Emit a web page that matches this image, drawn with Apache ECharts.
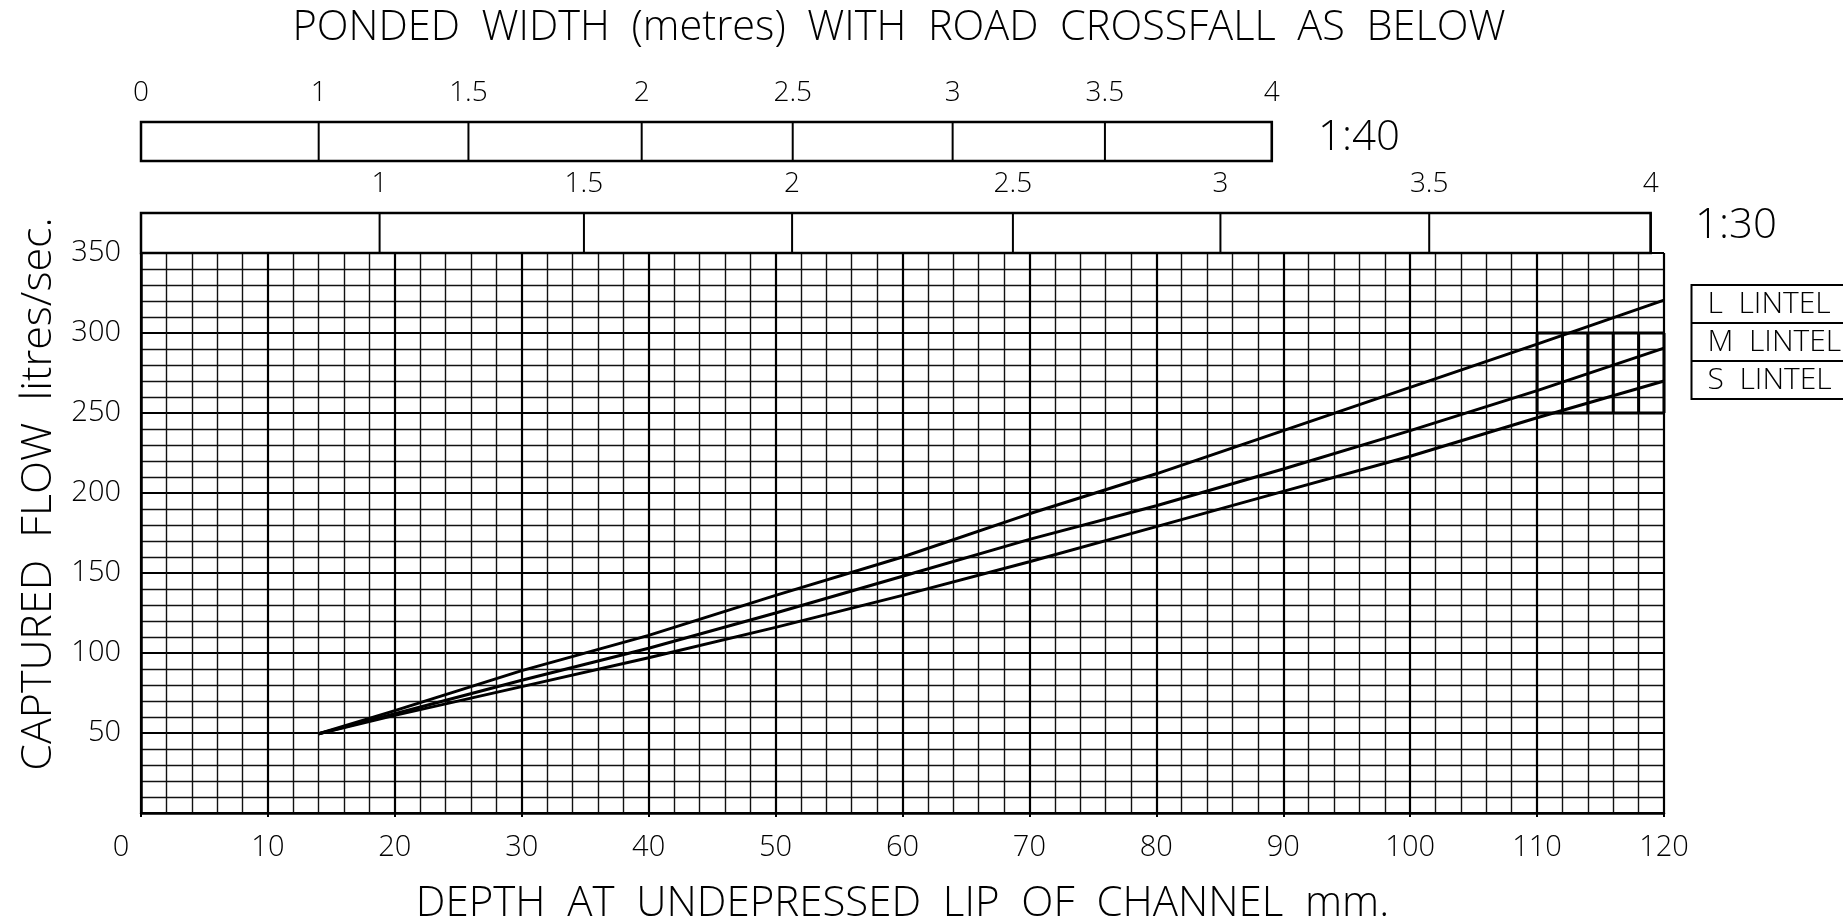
<!DOCTYPE html>
<html>
<head>
<meta charset="utf-8">
<title>Captured flow v depth</title>
<script src="https://cdn.jsdelivr.net/npm/echarts@6/dist/echarts.min.js"></script>
<style>
  html, body { margin: 0; padding: 0; background: #fff; }
  #main { width: 1843px; height: 920px; }
</style>
</head>
<body>
<div id="main"></div>
<script>
// depth at undepressed lip (mm) and captured flow (l/s)
const depth = [14, 20, 30, 40, 50, 60, 70, 80, 90, 100, 110, 120];
const flowL = [49.5, 64, 89, 111, 136, 160, 187, 212, 239, 266, 293, 320.5];
const flowM = [49.5, 62, 83, 103, 125, 148, 171, 192, 215, 239, 264, 290.5];
const flowS = [49.5, 61, 79, 97, 116, 136, 157, 179, 201, 223, 247, 270];
const lintelNames = ['L  LINTEL', 'M  LINTEL', 'S  LINTEL'];

// ponded width scales: width label and the depth (mm) it lines up with
const width40Labels = ['0', '1', '1.5', '2', '2.5', '3', '3.5', '4'];
const width40Depth = [0, 14.0, 25.8, 39.45, 51.35, 63.95, 75.95, 89.1];
const width30Labels = ['1', '1.5', '2', '2.5', '3', '3.5', '4'];
const width30Depth = [18.8, 34.9, 51.3, 68.7, 85.05, 101.5, 118.95];

// heavy ruled block at the right end (depth mm / flow l/s)
const zoneDepth = [110, 112, 114, 116, 118, 120];
const zoneFlow = [250, 300];

const FONT = '"Open Sans", "Liberation Sans", sans-serif';
const GRID_LEFT = 141, GRID_WIDTH = 1523;

function zip(xs, ys) {
  return xs.map((x, i) => [x, ys[i]]);
}

// one box scale: outline + a divider and a label for every entry
function scaleRenderer(labels, positions) {
  return function (params, api) {
    const x = api.value(0);
    const top = api.coord([x, 1]);
    const bottom = api.coord([x, 0]);
    const children = [
      {
        type: 'line',
        shape: { x1: top[0], y1: top[1], x2: bottom[0], y2: bottom[1] },
        style: { stroke: '#000', lineWidth: 2 }
      },
      {
        type: 'text',
        style: {
          text: labels[params.dataIndex],
          x: top[0], y: top[1] - 29,
          align: 'center', verticalAlign: 'middle',
          fontSize: 28, fontWeight: 300, fontFamily: FONT, fill: '#000'
        }
      }
    ];
    if (params.dataIndex === 0) {
      const a = api.coord([0, 1]);
      const b = api.coord([positions[positions.length - 1], 0]);
      children.push({
        type: 'rect',
        shape: { x: a[0], y: a[1], width: b[0] - a[0], height: b[1] - a[1] },
        style: { fill: 'none', stroke: '#000', lineWidth: 2.5 }
      });
    }
    return { type: 'group', children: children };
  };
}

const chart = echarts.init(document.getElementById('main'));

const option = {
  backgroundColor: '#fff',
  animation: false,
  title: {
    text: 'PONDED  WIDTH  (metres)  WITH  ROAD  CROSSFALL  AS  BELOW',
    left: 894,
    top: 2,
    textAlign: 'center',
    textStyle: { fontSize: 41.5, fontWeight: 300, fontFamily: FONT, color: '#000' }
  },
  grid: [
    { left: GRID_LEFT, top: 253, width: GRID_WIDTH, height: 560, outerBoundsMode: 'none' },
    { left: GRID_LEFT, top: 122, width: GRID_WIDTH, height: 39, outerBoundsMode: 'none' },
    { left: GRID_LEFT, top: 213, width: GRID_WIDTH, height: 40, outerBoundsMode: 'none' }
  ],
  xAxis: [
    {
      gridIndex: 0, type: 'value', min: 0, max: 120, interval: 10,
      name: 'DEPTH  AT  UNDEPRESSED  LIP  OF  CHANNEL  mm.',
      nameLocation: 'middle', nameGap: 70,
      nameTextStyle: { fontSize: 42, fontWeight: 300, fontFamily: FONT, color: '#000' },
      axisLine: { lineStyle: { color: '#000', width: 2.5 } },
      axisTick: { show: true, length: 4, lineStyle: { color: '#000', width: 2 } },
      axisLabel: {
        margin: 20, fontSize: 29, fontWeight: 300, fontFamily: FONT, color: '#000',
        formatter: v => (v === 0 ? '{z|0}' : String(v)),
        rich: { z: { fontSize: 29, fontWeight: 300, fontFamily: FONT, color: '#000', padding: [0, 40, 0, 0] } }
      },
      splitLine: { show: true, lineStyle: { color: '#000', width: 2.2 } },
      minorTick: { show: false, splitNumber: 5 },
      minorSplitLine: { show: true, lineStyle: { color: '#111', width: 1.4 } }
    },
    { gridIndex: 1, type: 'value', min: 0, max: 120, show: false },
    { gridIndex: 2, type: 'value', min: 0, max: 120, show: false }
  ],
  yAxis: [
    {
      gridIndex: 0, type: 'value', min: 0, max: 350, interval: 50,
      name: 'CAPTURED  FLOW  litres/sec.',
      nameLocation: 'middle', nameGap: 76,
      nameTextStyle: {
        fontSize: 43, fontWeight: 300, fontFamily: FONT, color: '#000',
        padding: [0, 0, 0, 78]
      },
      axisLine: { show: true, lineStyle: { color: '#000', width: 2.5 } },
      axisTick: { show: false },
      axisLabel: {
        margin: 20, fontSize: 29, fontWeight: 300, fontFamily: FONT, color: '#000',
        formatter: v => (v === 0 ? '' : String(v))
      },
      splitLine: { show: true, lineStyle: { color: '#000', width: 2.2 } },
      minorTick: { show: false, splitNumber: 5 },
      minorSplitLine: { show: true, lineStyle: { color: '#111', width: 1.4 } }
    },
    { gridIndex: 1, type: 'value', min: 0, max: 1, show: false },
    { gridIndex: 2, type: 'value', min: 0, max: 1, show: false }
  ],
  series: [
    {
      name: lintelNames[0], type: 'line', data: zip(depth, flowL),
      showSymbol: false, lineStyle: { color: '#000', width: 3 }
    },
    {
      name: lintelNames[1], type: 'line', data: zip(depth, flowM),
      showSymbol: false, lineStyle: { color: '#000', width: 3 }
    },
    {
      name: lintelNames[2], type: 'line', data: zip(depth, flowS),
      showSymbol: false, lineStyle: { color: '#000', width: 3 }
    },
    {
      // heavy block 110-120 mm, 250-300 l/s
      type: 'custom',
      data: zoneDepth.map(d => [d]),
      renderItem: function (params, api) {
        const x = api.value(0);
        const lo = api.coord([x, zoneFlow[0]]);
        const hi = api.coord([x, zoneFlow[1]]);
        const children = [{
          type: 'line',
          shape: { x1: lo[0], y1: lo[1], x2: hi[0], y2: hi[1] },
          style: { stroke: '#000', lineWidth: 3 }
        }];
        if (params.dataIndex === 0) {
          const end = zoneDepth[zoneDepth.length - 1];
          zoneFlow.forEach(f => {
            const p0 = api.coord([x, f]);
            const p1 = api.coord([end, f]);
            children.push({
              type: 'line',
              shape: { x1: p0[0], y1: p0[1], x2: p1[0], y2: p1[1] },
              style: { stroke: '#000', lineWidth: 3 }
            });
          });
        }
        return { type: 'group', children: children };
      },
      z: 3
    },
    {
      type: 'custom', xAxisIndex: 1, yAxisIndex: 1,
      data: width40Depth.map(d => [d]),
      renderItem: scaleRenderer(width40Labels, width40Depth)
    },
    {
      type: 'custom', xAxisIndex: 2, yAxisIndex: 2,
      data: width30Depth.map(d => [d]),
      renderItem: scaleRenderer(width30Labels, width30Depth)
    }
  ],
  graphic: [
    {
      type: 'text', left: 1318, top: 117,
      style: { text: '1:40', fontSize: 42, fontWeight: 300, fontFamily: FONT, fill: '#000' }
    },
    {
      type: 'text', left: 1695, top: 205,
      style: { text: '1:30', fontSize: 42, fontWeight: 300, fontFamily: FONT, fill: '#000' }
    },
    // lintel key, runs off the right edge like the drawing
    {
      type: 'group', left: 1689, top: 284,
      children: [
        { type: 'rect', shape: { x: 0, y: 0, width: 200, height: 114 }, style: { fill: '#fff', stroke: '#000', lineWidth: 2 } },
        { type: 'line', shape: { x1: 0, y1: 38, x2: 200, y2: 38 }, style: { stroke: '#000', lineWidth: 2 } },
        { type: 'line', shape: { x1: 0, y1: 76, x2: 200, y2: 76 }, style: { stroke: '#000', lineWidth: 2 } }
      ].concat(lintelNames.map((n, i) => ({
        type: 'text', x: 16, y: 19 + i * 38,
        style: { text: n, fontSize: 30, fontWeight: 300, fontFamily: FONT, fill: '#000', verticalAlign: 'middle' }
      })))
    }
  ]
};

chart.setOption(option);
</script>
</body>
</html>
